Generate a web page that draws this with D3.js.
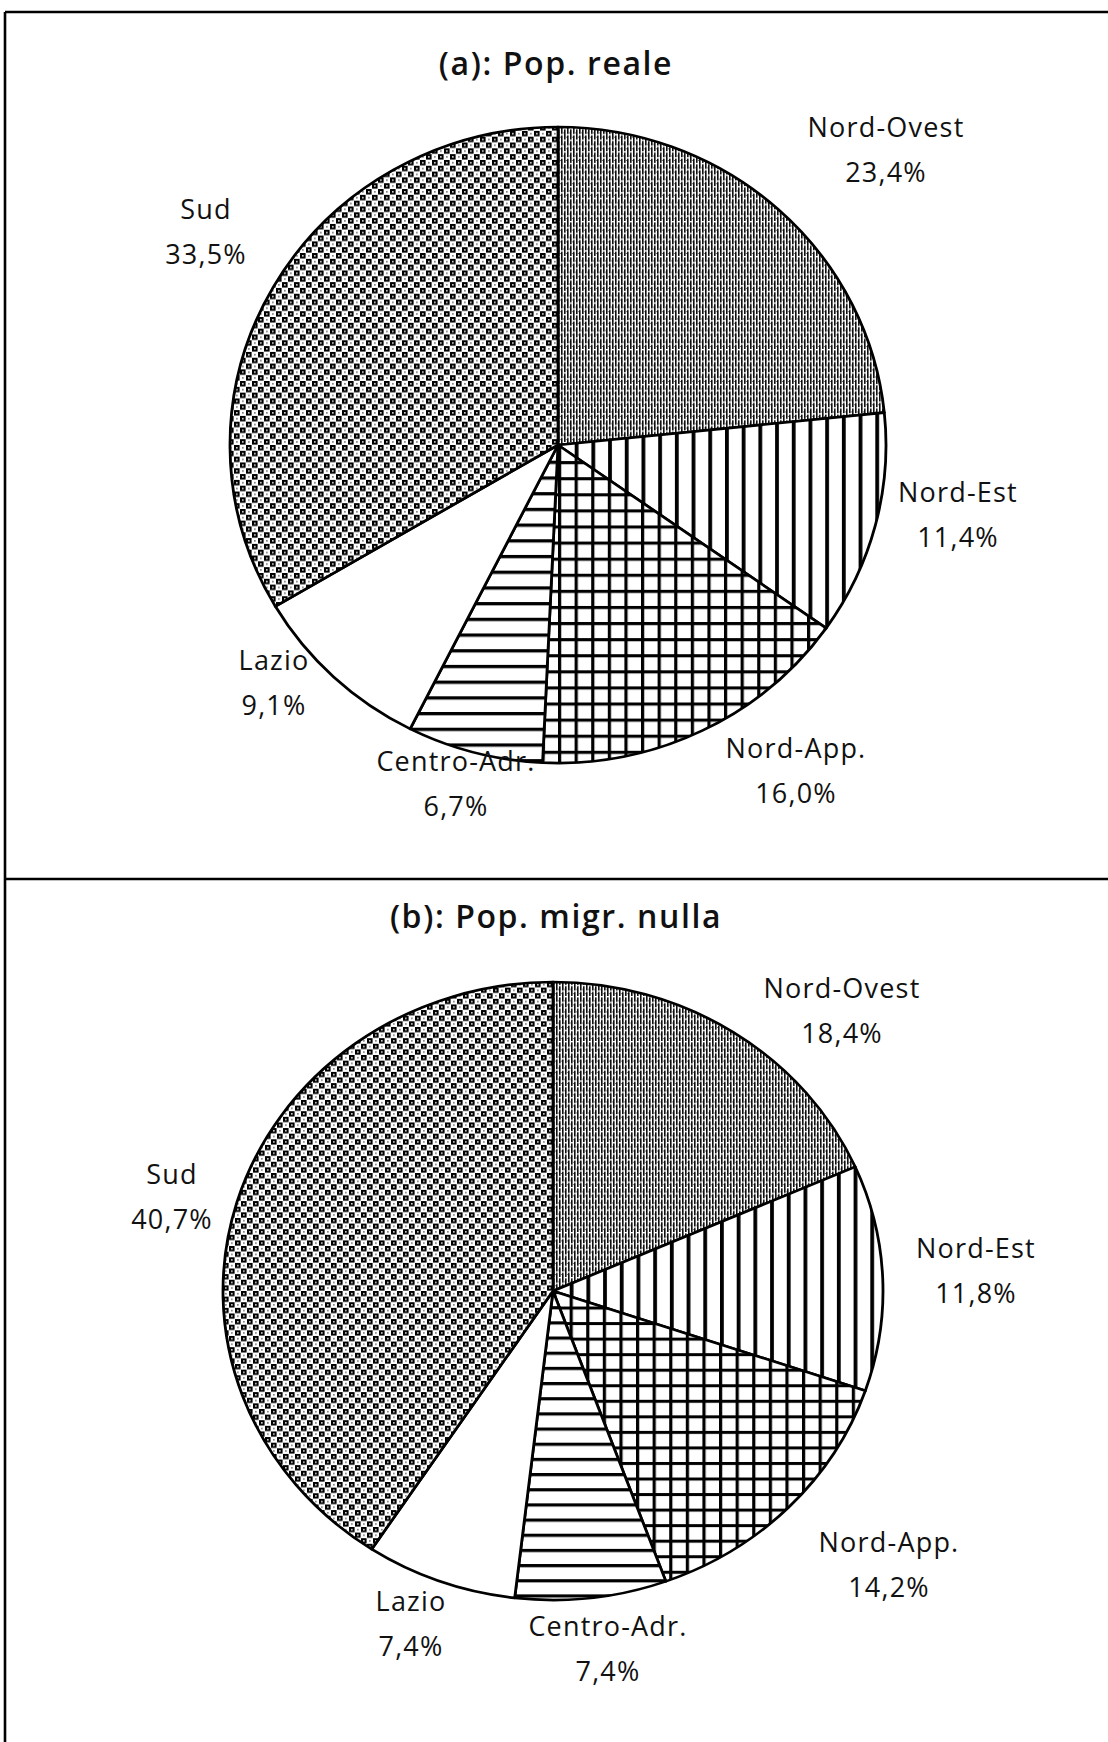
<!DOCTYPE html>
<html>
<head>
<meta charset="utf-8">
<script src="https://cdn.jsdelivr.net/npm/d3@7"></script>
<style>
  html, body { margin: 0; padding: 0; background: #fff; }
  svg { display: block; }
</style>
</head>
<body>
<div id="chart"></div>
<script>
// ---- data ----
const categories = ["Nord-Ovest", "Nord-Est", "Nord-App.", "Centro-Adr.", "Lazio", "Sud"];
const valuesA = [23.4, 11.4, 16.0, 6.7, 9.1, 33.5];
const valuesB = [18.4, 11.8, 14.2, 7.4, 7.4, 40.7];
const titles = ["(a): Pop. reale", "(b): Pop. migr. nulla"];

// ---- layout ----
const W = 1108, H = 1742;
const panels = [
  { title: titles[0], values: valuesA, cx: 558, cy: 445, rx: 328, ry: 318, titleY: 62,
    labels: { "Nord-Ovest": [886, 126], "Nord-Est": [958, 491], "Nord-App.": [796, 747],
              "Centro-Adr.": [456, 760], "Lazio": [274, 659], "Sud": [206, 208] } },
  { title: titles[1], values: valuesB, cx: 553, cy: 1291, rx: 330, ry: 309, titleY: 915,
    labels: { "Nord-Ovest": [842, 987], "Nord-Est": [976, 1247], "Nord-App.": [889, 1541],
              "Centro-Adr.": [608, 1625], "Lazio": [411, 1600], "Sud": [172, 1173] } }
];
const fmt = v => d3.format(".1f")(v).replace(".", ",") + "%";

const svg = d3.select("#chart").append("svg")
  .attr("width", W).attr("height", H).attr("viewBox", `0 0 ${W} ${H}`);
svg.append("rect").attr("width", W).attr("height", H).attr("fill", "#fff");

// ---- patterns ----
const defs = svg.append("defs");
function pattern(id, w, h) {
  const p = defs.append("pattern").attr("id", id).attr("patternUnits", "userSpaceOnUse")
    .attr("width", w).attr("height", h);
  p.append("rect").attr("width", w).attr("height", h).attr("fill", "#fff");
  return p;
}
function rects(p, list, fill) {
  list.forEach(r => p.append("rect").attr("x", r[0]).attr("y", r[1])
    .attr("width", r[2]).attr("height", r[3]).attr("fill", fill || "#000"));
}
// Nord-Ovest: dense broken vertical lines (grey)
const pNO = pattern("p0", 6, 12);
rects(pNO, [[0,0,1.6,9],[0,10.4,1.6,1.6],[3,0,1.6,3.2],[3,4.6,1.6,7.4],[1.9,6,0.8,0.9],[4.9,1.5,0.8,0.9]], "#111");
// Nord-Est: vertical lines
const pNE = pattern("p1", 16.7, 20);
rects(pNE, [[0,0,3.8,20]]);
// Nord-App: grid
const pNA = pattern("p2", 16.6, 16.6);
rects(pNA, [[0,0,3.2,16.6],[0,0,16.6,3.2]]);
// Centro-Adr: horizontal lines
const pCA = pattern("p3", 20, 16.2);
rects(pCA, [[0,0,20,3.4]]);
// Sud: diagonal checker of small squares with white centres
const pS = pattern("p5", 12, 12);
rects(pS, [[0,0,5.6,5.6],[6,6,5.6,5.6]]);
rects(pS, [[2.1,2.1,1.5,1.5],[8.1,8.1,1.5,1.5]], "#fff");
rects(pS, [[8.3,2.3,1.2,1.2],[2.3,8.3,1.2,1.2]], "#000");

const fills = ["url(#p0)", "url(#p1)", "url(#p2)", "url(#p3)", "#fff", "url(#p5)"];
const color = d3.scaleOrdinal().domain(categories).range(fills);

// ---- frame ----
const frame = svg.append("g").attr("stroke", "#000").attr("stroke-width", 2.6).attr("fill", "none");
frame.append("line").attr("x1", 5).attr("y1", 12).attr("x2", W).attr("y2", 12);
frame.append("line").attr("x1", 5).attr("y1", 12).attr("x2", 5).attr("y2", H);
frame.append("line").attr("x1", 5).attr("y1", 879).attr("x2", W).attr("y2", 879);

const pie = d3.pie().sort(null).value(d => d.value);
const font = "'Open Sans', 'DejaVu Sans', sans-serif";

panels.forEach(p => {
  const data = categories.map((c, i) => ({ cat: c, value: p.values[i] }));
  const arcs = pie(data);
  const arc = d3.arc().innerRadius(0).outerRadius(p.rx);
  const g = svg.append("g")
    .attr("transform", `translate(${p.cx},${p.cy}) scale(1,${p.ry / p.rx})`);
  g.selectAll("path").data(arcs).join("path")
    .attr("d", arc)
    .attr("fill", d => color(d.data.cat))
    .attr("stroke", "#000")
    .attr("stroke-width", 2.8)
    .attr("stroke-linejoin", "round");

  svg.append("text")
    .attr("x", 556).attr("y", p.titleY)
    .attr("text-anchor", "middle").attr("dominant-baseline", "central")
    .attr("font-family", font).attr("font-weight", 600).attr("font-size", 32)
    .attr("letter-spacing", 1.6)
    .attr("fill", "#111")
    .text(p.title);

  const lab = svg.append("g").attr("font-family", font).attr("font-size", 27)
    .attr("fill", "#111").attr("text-anchor", "middle").attr("letter-spacing", 1.2);
  arcs.forEach(a => {
    const pos = p.labels[a.data.cat];
    lab.append("text").attr("x", pos[0]).attr("y", pos[1]).attr("dominant-baseline", "central")
      .text(a.data.cat);
    lab.append("text").attr("x", pos[0]).attr("y", pos[1] + 45).attr("dominant-baseline", "central")
      .text(fmt(a.data.value));
  });
});
</script>
</body>
</html>
